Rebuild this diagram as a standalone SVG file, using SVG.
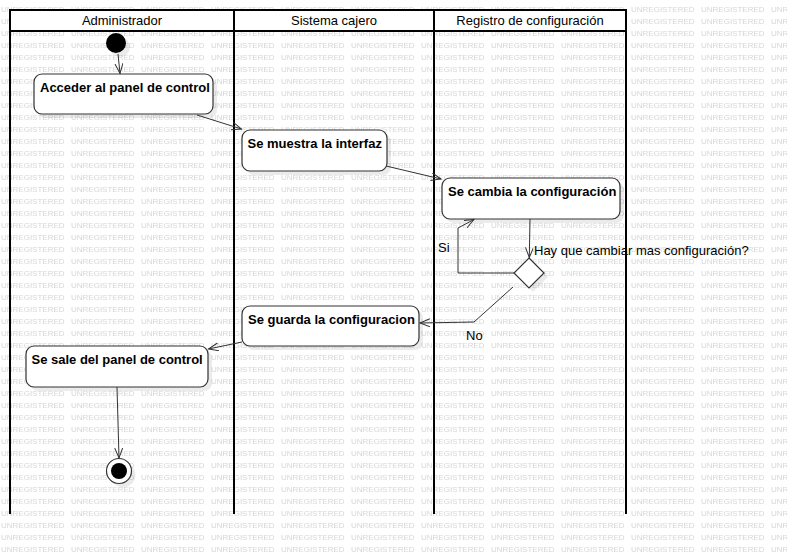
<svg xmlns="http://www.w3.org/2000/svg" width="787" height="554" viewBox="0 0 787 554">
<defs>
<pattern id="wm" patternUnits="userSpaceOnUse" x="0" y="0" width="70" height="12">
<text x="1" y="11.8" font-family="Liberation Sans, Arial, sans-serif" font-size="8" fill="#d6d6d6">UNREGISTERED</text>
</pattern>
<marker id="arr" markerUnits="userSpaceOnUse" markerWidth="12" markerHeight="10" refX="10" refY="4" orient="auto">
<path d="M0,0 L10,4 L0,8" fill="none" stroke="#333" stroke-width="1"/>
</marker>
</defs>
<style>
.lane{fill:none;stroke:#000;stroke-width:2}
.hdr{fill:#fff;stroke:#000;stroke-width:2}
.htxt{font-family:"Liberation Sans",Arial,sans-serif;font-size:13px;fill:#000;text-anchor:middle}
.node{fill:#fff;stroke:#333;stroke-width:1.2}
.shadow{fill:#000;fill-opacity:0.08;stroke:none}
.ntxt{font-family:"Liberation Sans",Arial,sans-serif;font-size:13px;font-weight:bold;fill:#000}
.ltxt{font-family:"Liberation Sans",Arial,sans-serif;font-size:13px;fill:#000}
.edge{fill:none;stroke:#333;stroke-width:1;marker-end:url(#arr)}
</style>
<rect x="0" y="0" width="787" height="554" fill="#fff"/>
<rect x="0" y="0" width="787" height="554" fill="url(#wm)"/>
<g id="swimlanes">
<rect class="hdr" x="10" y="10" width="616" height="21"/>
<line class="lane" x1="10" y1="10" x2="10" y2="514"/>
<line class="lane" x1="234" y1="10" x2="234" y2="514"/>
<line class="lane" x1="434" y1="10" x2="434" y2="514"/>
<line class="lane" x1="626" y1="10" x2="626" y2="514"/>
<text class="htxt" x="122" y="24.5">Administrador</text>
<text class="htxt" x="334" y="24.5">Sistema cajero</text>
<text class="htxt" x="530" y="24.5">Registro de configuración</text>
</g>
<g id="start">
<circle class="shadow" cx="120" cy="47" r="10"/>
<circle cx="116" cy="43" r="10" fill="#000"/>
</g>
<g id="n1">
<rect class="shadow" x="38" y="78" width="179" height="40" rx="8"/>
<rect class="node" x="34" y="74" width="179" height="40" rx="8"/>
<text class="ntxt" x="40" y="91.5">Acceder al panel de control</text>
</g>
<g id="n2">
<rect class="shadow" x="246" y="134" width="145" height="41" rx="8"/>
<rect class="node" x="242" y="130" width="145" height="41" rx="8"/>
<text class="ntxt" x="247.5" y="147.5">Se muestra la interfaz</text>
</g>
<g id="n3">
<rect class="shadow" x="446" y="182" width="178" height="41" rx="8"/>
<rect class="node" x="442" y="178" width="178" height="41" rx="8"/>
<text class="ntxt" x="448" y="195.5">Se cambia la configuración</text>
</g>
<g id="decision">
<polygon class="shadow" points="533,262 548,277 533,292 518,277"/>
<polygon class="node" points="529,258 544,273 529,288 514,273"/>
</g>
<g id="n4">
<rect class="shadow" x="246" y="310" width="177" height="40" rx="8"/>
<rect class="node" x="242" y="306" width="177" height="40" rx="8"/>
<text class="ntxt" x="248" y="323.5">Se guarda la configuracion</text>
</g>
<g id="n5">
<rect class="shadow" x="30" y="350" width="182" height="41" rx="8"/>
<rect class="node" x="26" y="346" width="182" height="41" rx="8"/>
<text class="ntxt" x="31.5" y="363.5">Se sale del panel de control</text>
</g>
<g id="end">
<circle class="shadow" cx="123" cy="475" r="12.5"/>
<circle cx="119" cy="471" r="12.5" fill="#fff" stroke="#333" stroke-width="1.2"/>
<circle cx="119" cy="471" r="8" fill="#000"/>
</g>
<g id="connectors">
<path class="edge" d="M118,54 L120,73.5"/>
<path class="edge" d="M197,115 L241.5,129"/>
<path class="edge" d="M386,166 L441,179"/>
<path class="edge" d="M530,219 L529.3,257.5"/>
<path class="edge" d="M514,273 L458,273 L458,228 L474,219.5"/>
<path class="edge" d="M513,287 L474,322 L420,323"/>
<path class="edge" d="M242,342 L208.5,349"/>
<path class="edge" d="M117,387 L119,458"/>
<text class="ltxt" x="438" y="252">Si</text>
<text class="ltxt" x="534" y="255">Hay que cambiar mas configuración?</text>
<text class="ltxt" x="466" y="340">No</text>
</g>
</svg>
